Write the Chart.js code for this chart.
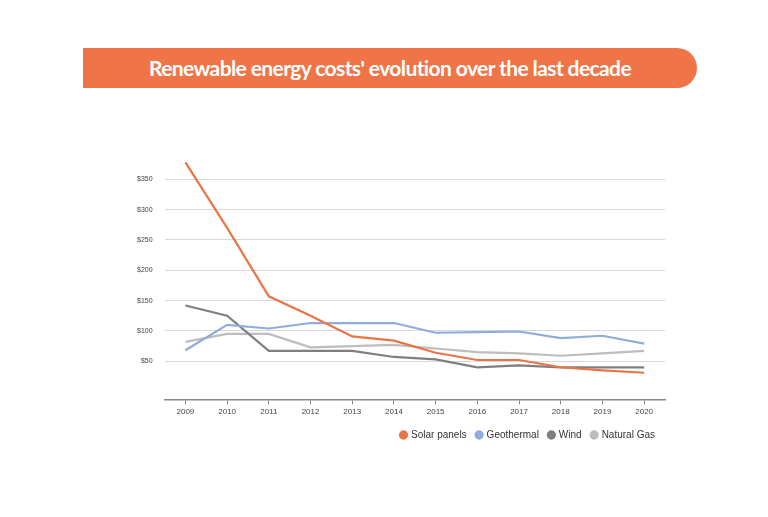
<!DOCTYPE html>
<html><head><meta charset="utf-8">
<script src="https://cdn.jsdelivr.net/npm/chart.js@4"></script>
<style>
body{margin:0;background:#fff;width:768px;height:517px;position:relative;overflow:hidden;font-family:"Open Sans",sans-serif}
#title{position:absolute;left:83px;top:48px;width:614px;height:40px;background:#EF7549;border-radius:0 20px 20px 0;color:#fff;font-family:Lato,sans-serif;font-weight:bold;font-size:21px;line-height:40px;text-align:center;letter-spacing:-0.6px}
#wrap{position:absolute;left:125px;top:145px;width:550px;height:305px}
</style></head><body>
<div id="title">Renewable energy costs' evolution over the last decade</div>
<div id="wrap"><canvas id="c"></canvas></div>
<script>
const years=['2009','2010','2011','2012','2013','2014','2015','2016','2017','2018','2019','2020'];
const solar=[378,270,157,125,91,84,64,52,52,40,35,31];
const geothermal=[68,110,104,113,113,113,97,98,99,88,92,79];
const wind=[142,125,67,67,67,57,53,40,43,40,40,40];
const gas=[82,95,95,73,75,77,71,65,63,59,63,67];
const names=['Solar panels','Geothermal','Wind','Natural Gas'];
const colors=['#EB7447','#8EADD9','#7F7F7F','#BDBDBD'];
const series=[solar,geothermal,wind,gas];
new Chart(document.getElementById('c'),{type:'line',
data:{labels:years,datasets:series.map((d,i)=>({label:names[i],data:d,borderColor:colors[i],backgroundColor:colors[i],borderWidth:2.2,pointRadius:0,tension:0}))},
options:{responsive:true,maintainAspectRatio:false,animation:false,
layout:{padding:{top:8,right:10}},
plugins:{legend:{position:'bottom',align:'end',labels:{usePointStyle:true,pointStyle:'circle',boxWidth:5,boxHeight:5,font:{size:10},color:'#333',padding:10}},tooltip:{enabled:false}},
scales:{x:{offset:true,grid:{display:true,drawOnChartArea:false,drawTicks:true,tickLength:5,color:'#888'},border:{color:'#888',width:1.5},ticks:{font:{size:8},color:'#444'}},
y:{min:-13,max:380,afterBuildTicks:a=>{a.ticks=[50,100,150,200,250,300,350].map(v=>({value:v}))},grid:{color:'#d9d9d9',drawTicks:false},border:{display:false},ticks:{font:{size:7},color:'#444',padding:12,callback:v=>'$'+v}}}}});
</script></body></html>
